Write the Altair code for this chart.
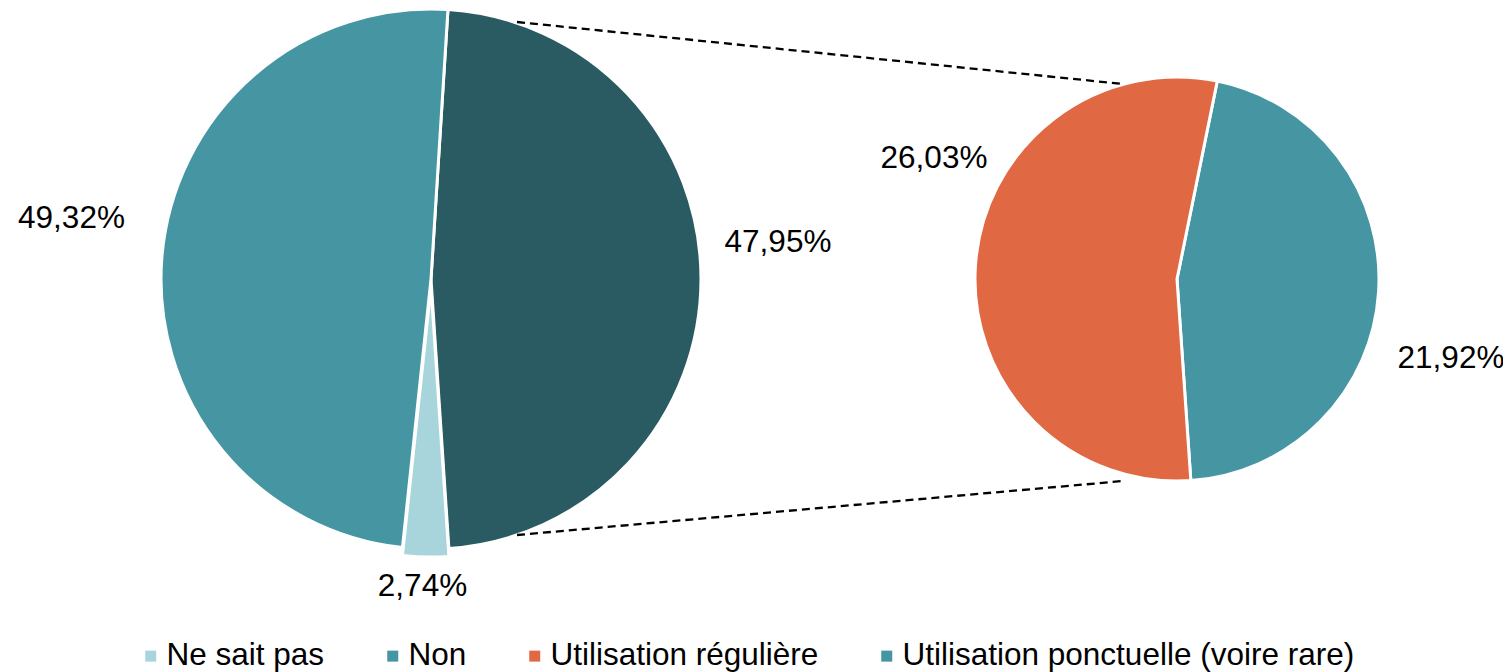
import math
import altair as alt
import pandas as pd

# ---- data ----
left_cats = ["Oui", "Ne sait pas", "Non"]
left_vals = [47.95, 2.74, 49.32]
right_cats = ["Utilisation ponctuelle (voire rare)", "Utilisation régulière"]
right_vals = [21.92, 26.03]
legend_cats = ["Ne sait pas", "Non", "Utilisation régulière",
               "Utilisation ponctuelle (voire rare)"]
color_domain = ["Oui", "Ne sait pas", "Non", "Utilisation régulière",
                "Utilisation ponctuelle (voire rare)"]
color_range = ["#2A5B63", "#A8D4DB", "#4596A2", "#E06944", "#4596A2"]

FONT = "Liberation Sans"
FS = 31.5

left_df = pd.DataFrame({"cat": left_cats, "value": left_vals,
                        "order": list(range(len(left_cats)))})
right_df = pd.DataFrame({"cat": right_cats, "value": right_vals,
                         "order": list(range(len(right_cats)))})

color = alt.Color(
    "cat:N",
    scale=alt.Scale(domain=color_domain, range=color_range),
    legend=alt.Legend(
        values=legend_cats, title=None, orient="none", direction="horizontal",
        legendX=127, legendY=632, padding=0, symbolType="square", symbolSize=121,
        symbolStrokeWidth=0, labelFont=FONT, labelFontSize=FS,
        labelColor="black", labelLimit=0, labelOffset=0, columnPadding=52,
    ),
)


def stacked(df):
    return (alt.Chart(df)
            .transform_window(end="sum(value)", sort=[alt.SortField("order")],
                              frame=[None, 0])
            .transform_calculate(start="datum.end - datum.value",
                                 label="replace(format(datum.value, '.2f'), '.', ',') + '%'"))


L_START = math.radians(3.6)
R_START = math.radians(11.5)
left_theta = alt.Scale(domain=[0, sum(left_vals)], range=[L_START, L_START + 2 * math.pi])
right_theta = alt.Scale(domain=[0, sum(right_vals)], range=[R_START, R_START + 2 * math.pi])

LX, LY, LR = 423, 271, 270
RX, RY, RR = 1169, 271, 202

left_base = stacked(left_df)
right_base = stacked(right_df)

arc_kw = dict(stroke="white", strokeWidth=3)

left_main = left_base.transform_filter("datum.cat != 'Ne sait pas'").mark_arc(
    radius=LR, **arc_kw).encode(
    x=alt.value(LX), y=alt.value(LY),
    theta=alt.Theta("start:Q", scale=left_theta), theta2="end:Q", color=color)

left_explode = left_base.transform_filter("datum.cat == 'Ne sait pas'").mark_arc(
    radius=LR, **arc_kw).encode(
    x=alt.value(LX), y=alt.value(LY + 8),
    theta=alt.Theta("start:Q", scale=left_theta), theta2="end:Q", color=color)

right_pie = right_base.mark_arc(radius=RR, **arc_kw).encode(
    x=alt.value(RX), y=alt.value(RY),
    theta=alt.Theta("start:Q", scale=right_theta), theta2="end:Q", color=color)


def label(base, cat, x, y):
    return base.transform_filter(alt.datum.cat == cat).mark_text(
        font=FONT, fontSize=FS, color="black", align="center",
        baseline="alphabetic").encode(
        x=alt.value(x), y=alt.value(y), text="label:N")


labels = [
    label(left_base, "Non", 63.5, 220),
    label(left_base, "Oui", 770, 244),
    label(left_base, "Ne sait pas", 414.5, 588),
    label(right_base, "Utilisation régulière", 926, 160),
    label(right_base, "Utilisation ponctuelle (voire rare)", 1443, 360),
]

rule_df = pd.DataFrame({"k": [0]})
dash = dict(color="black", strokeWidth=2.3, strokeDash=[8, 5])
rule_top = alt.Chart(rule_df).mark_rule(**dash).encode(
    x=alt.value(509), y=alt.value(14), x2=alt.value(1115), y2=alt.value(76))
rule_bot = alt.Chart(rule_df).mark_rule(**dash).encode(
    x=alt.value(509), y=alt.value(527), x2=alt.value(1115), y2=alt.value(473))

chart = alt.layer(
    left_main, left_explode, right_pie, rule_top, rule_bot, *labels
).resolve_scale(theta="independent").properties(
    width=1495, height=664, padding=0, autosize=alt.AutoSizeParams(type="none")
).configure_view(stroke=None)

chart.save("out.html", embed_options={"renderer": "svg", "actions": False})
